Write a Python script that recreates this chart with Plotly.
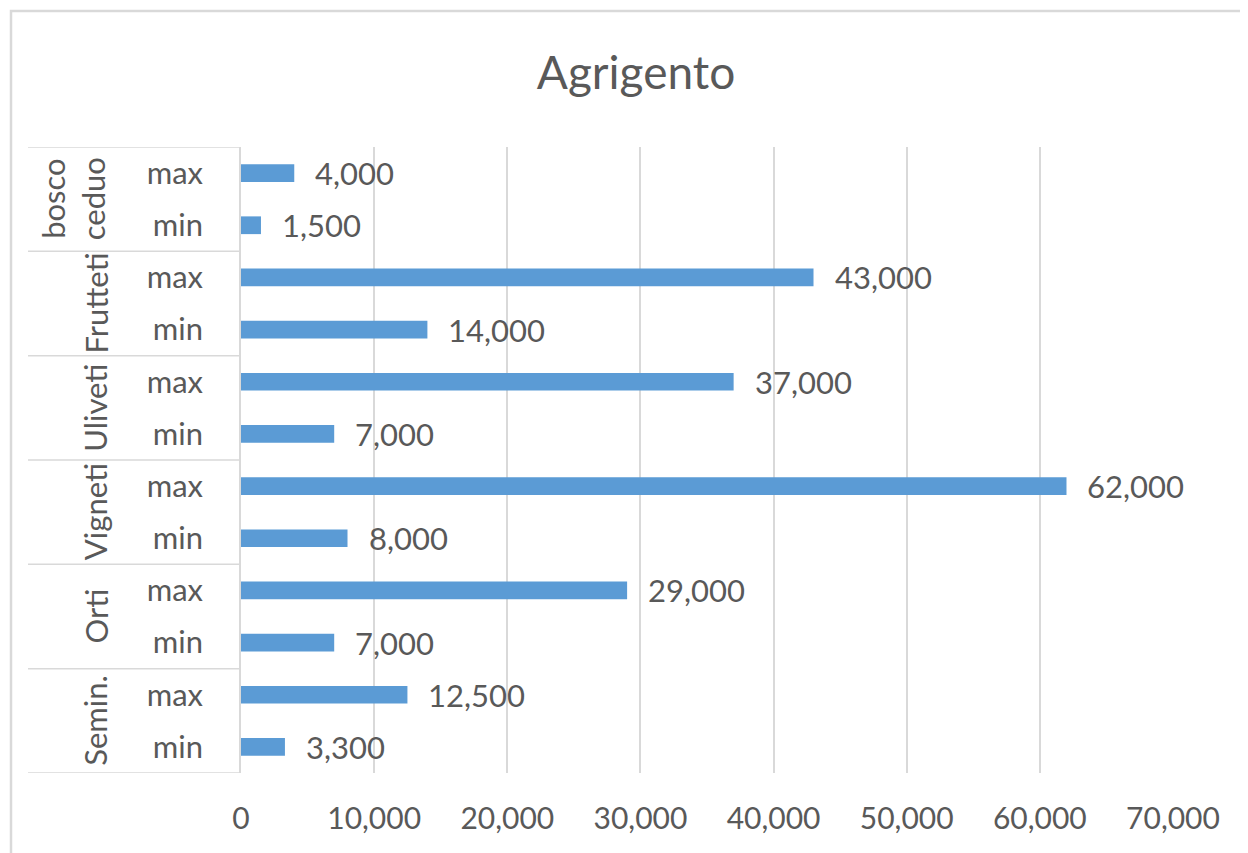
import plotly.graph_objects as go

groups = ["bosco<br>ceduo", "Frutteti", "Uliveti", "Vigneti", "Orti", "Semin."]
subs = ["max", "min"]
max_vals = [4000, 43000, 37000, 62000, 29000, 12500]
min_vals = [1500, 14000, 7000, 8000, 7000, 3300]
x_ticks = [0, 10000, 20000, 30000, 40000, 50000, 60000, 70000]

cats, vals, sub_labels = [], [], []
for g, mx, mn in zip(groups, max_vals, min_vals):
    for s, v in zip(subs, [mx, mn]):
        cats.append(f"{g}|{s}")
        vals.append(v)
        sub_labels.append(s)

TXT = "#595959"
GRID = "#D9D9D9"
FONT = "Lato"
OFF = 8  # page body margin

fig = go.Figure(go.Bar(
    x=vals, y=cats, orientation="h",
    marker=dict(color="#5B9BD5", line=dict(width=0)),
    width=0.34,
))

# value labels
for c, v in zip(cats, vals):
    fig.add_annotation(x=v, y=c, text=f"{v:,}", showarrow=False,
                       xanchor="left", yanchor="middle", xshift=19,
                       font=dict(family=FONT, size=31, color=TXT))

# layout geometry in reference screen pixels
L, R, T, B = 241, 1173, 147, 773
W, H = R - L, B - T
def px(xp):
    return (xp - L) / W
def py(yp):
    return (B - yp) / H

for gi, g in enumerate(groups):
    xc = 73 if "<br>" in g else 95
    fig.add_annotation(x=px(xc), xref="paper", y=2 * gi + 0.5, yref="y",
                       text=g, textangle=-90, showarrow=False,
                       xanchor="center", yanchor="middle",
                       font=dict(family=FONT, size=31, color=TXT))
for k in range(len(groups) + 1):
    yv = 2 * k - 0.5
    fig.add_shape(type="line", xref="paper", yref="y", x0=px(28), x1=0,
                  y0=yv, y1=yv, line=dict(color=GRID, width=1.5), layer="below")

# outer chart border (cropped at right/bottom)
fig.add_shape(type="rect", xref="paper", yref="paper",
              x0=px(11), x1=px(1275), y0=py(875), y1=py(11),
              line=dict(color=GRID, width=2.5), fillcolor="rgba(0,0,0,0)")

fig.update_layout(
    width=1248, height=853,
    margin=dict(l=L - OFF, r=1248 - R + OFF, t=T - OFF, b=853 - B + OFF),
    paper_bgcolor="white", plot_bgcolor="white",
    showlegend=False,
    title=dict(text="Agrigento", x=(636 - OFF) / 1248, xanchor="center", xref="container",
               y=1 - (73 - OFF) / 853, yanchor="middle", yref="container",
               font=dict(family=FONT, size=46, color=TXT)),
    font=dict(family=FONT, size=30, color=TXT),
)
fig.update_xaxes(range=[0, 70000], tickvals=x_ticks,
                 ticktext=[f"{t:,}" for t in x_ticks],
                 showgrid=True, gridcolor=GRID, gridwidth=1.5,
                 zeroline=False, showline=False, ticks="",
                 ticklabelstandoff=25,
                 tickfont=dict(family=FONT, size=30, color=TXT))
fig.update_yaxes(type="category", categoryorder="array", categoryarray=cats,
                 range=[len(cats) - 0.5, -0.5],
                 tickvals=cats, ticktext=sub_labels,
                 showgrid=False, zeroline=False,
                 showline=True, linecolor=GRID, linewidth=1.5, ticks="",
                 ticklabelstandoff=30,
                 tickfont=dict(family=FONT, size=31, color=TXT))

fig.write_html("out.html")
